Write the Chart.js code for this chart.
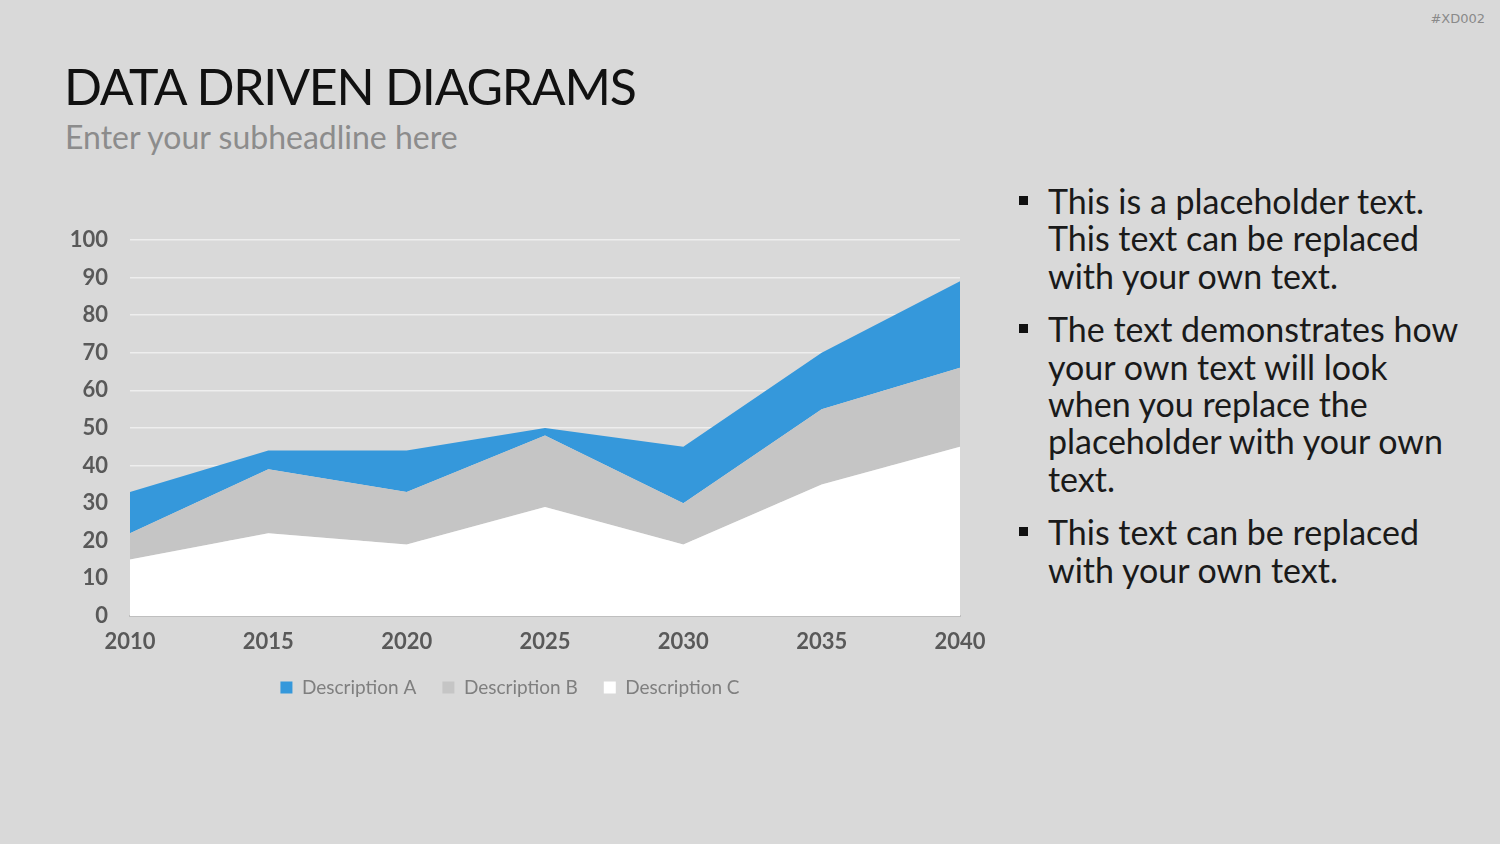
<!DOCTYPE html>
<html>
<head>
<meta charset="utf-8">
<script src="https://cdn.jsdelivr.net/npm/chart.js@4/dist/chart.umd.min.js"></script>
<style>
    html, body { margin: 0; padding: 0; }
    body { width: 1500px; height: 844px; background: #d9d9d9; position: relative; overflow: hidden; font-family: Lato, sans-serif; }
    .tag { position: absolute; right: 15px; top: 11px; font-size: 13px; color: #8a8a8a; font-family: "DejaVu Sans", sans-serif; }
    h1 { position: absolute; left: 64px; top: 56px; margin: 0; font-weight: 400; font-size: 50px; color: #111; letter-spacing: -1.2px; }
    h2 { position: absolute; left: 65px; top: 117px; margin: 0; font-weight: 400; font-size: 32px; color: #8c8c8c; }
    .chartBox { position: absolute; left: 40px; top: 225px; width: 960px; height: 482px; }
    ul { position: absolute; left: 1018px; top: 182px; margin: 0; padding: 0; list-style: none; width: 442px; }
    li { position: relative; padding-left: 30px; font-size: 34px; line-height: 37.4px; color: #1a1a1a; margin-bottom: 16px; }
    li::before { content: ""; position: absolute; left: 1px; top: 14px; width: 9px; height: 9px; background: #111; }
</style>
</head>
<body>
<div class="tag">#XD002</div>
<h1>DATA DRIVEN DIAGRAMS</h1>
<h2>Enter your subheadline here</h2>
<div class="chartBox"><canvas id="areaChart"></canvas></div>
<ul>
    <li>This is a placeholder text. This text can be replaced with your own text.</li>
    <li>The text demonstrates how your own text will look when you replace the placeholder with your own text.</li>
    <li>This text can be replaced with your own text.</li>
</ul>
<script>
const years = ['2010', '2015', '2020', '2025', '2030', '2035', '2040'];
const descA = [11, 5, 11, 2, 15, 15, 23];
const descB = [7, 17, 14, 19, 11, 20, 21];
const descC = [15, 22, 19, 29, 19, 35, 45];
const yTicks = [0, 10, 20, 30, 40, 50, 60, 70, 80, 90, 100];

const ctx = document.getElementById('areaChart').getContext('2d');
new Chart(ctx, {
    type: 'line',
    data: {
        labels: years,
        datasets: [
            { label: 'Description C', data: descC, backgroundColor: '#ffffff', fill: 'origin' },
            { label: 'Description B', data: descB, backgroundColor: '#c5c5c5', fill: '-1' },
            { label: 'Description A', data: descA, backgroundColor: '#3598db', fill: '-1' },
        ].map((ds) => ({ ...ds, borderWidth: 0, pointRadius: 0, tension: 0, borderColor: ds.backgroundColor })),
    },
    options: {
        responsive: true,
        maintainAspectRatio: false,
        animation: false,
        layout: { padding: { top: 15, right: 40, left: 20, bottom: 0 } },
        plugins: {
            tooltip: { enabled: false },
            legend: {
                position: 'bottom',
                reverse: true,
                labels: {
                    boxWidth: 12,
                    boxHeight: 12,
                    padding: 26,
                    color: '#7f7f7f',
                    font: { family: 'Lato', size: 19 },
                    generateLabels: (chart) => chart.data.datasets.map((ds, i) => ({
                        text: ds.label,
                        fillStyle: ds.backgroundColor,
                        strokeStyle: ds.backgroundColor,
                        lineWidth: 0,
                        datasetIndex: i,
                        fontColor: '#7f7f7f',
                    })),
                },
            },
        },
        scales: {
            x: {
                offset: false,
                grid: { display: false, drawTicks: false },
                border: { display: true, color: '#bfbfbf', width: 2 },
                ticks: { color: '#595959', padding: 13, maxRotation: 0, font: { family: 'Lato', size: 22, weight: 'bold' } },
                afterFit: (s) => { s.height = 36; s.paddingLeft = 0; s.paddingRight = 0; },
            },
            y: {
                stacked: true,
                min: 0,
                max: 100,
                afterBuildTicks: (s) => { s.ticks = yTicks.map((v) => ({ value: v })); },
                grid: { color: '#eeeeee', lineWidth: 1.5, drawTicks: false },
                border: { display: false },
                ticks: { color: '#595959', padding: 22, font: { family: 'Lato', size: 22, weight: 'bold' } },
                afterFit: (s) => { s.width = 70; s.paddingTop = 0; s.paddingBottom = 0; },
            },
        },
    },
});
</script>
</body>
</html>
